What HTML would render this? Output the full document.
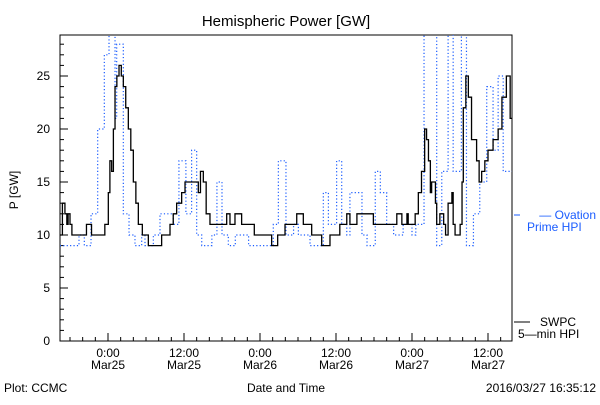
<!DOCTYPE html>
<html><head><meta charset="utf-8"><style>
body{margin:0;background:#fff}
svg text{font-family:"Liberation Sans",sans-serif;font-size:12px}
</style></head><body>
<svg id="c" width="600" height="400" viewBox="0 0 600 400">
<defs><clipPath id="clip"><rect x="60" y="35" width="452" height="306"/></clipPath></defs>
<text x="286" y="26" text-anchor="middle" style="font-size:15px">Hemispheric Power [GW]</text>
<rect x="60" y="35" width="452" height="306" fill="none" stroke="#000"/>
<g id="ticks"></g>
<g clip-path="url(#clip)">
<path id="ov" fill="none" stroke="#1a5cff" stroke-width="1.2" stroke-dasharray="1.2,2.2"/>
<path id="sw" fill="none" stroke="#000" stroke-width="1.3"/>
</g>
<text x="18" y="190" transform="rotate(-90 18 190)" text-anchor="middle">P [GW]</text>
<text x="286" y="392" text-anchor="middle">Date and Time</text>
<text x="4" y="392">Plot: CCMC</text>
<text x="596" y="392" text-anchor="end">2016/03/27 16:35:12</text>
<line x1="514" y1="215" x2="520" y2="215" stroke="#1a5cff"/>
<text x="596" y="219" text-anchor="end" fill="#1a5cff">— Ovation</text>
<text x="527" y="231" fill="#1a5cff">Prime HPI</text>
<line x1="514" y1="322" x2="530" y2="322" stroke="#000"/>
<text x="540" y="326">SWPC</text>
<text x="518" y="338">5—min HPI</text>
</svg>
<script>
const yTicks=[0,5,10,15,20,25];
const xTickHours=[0,12,24,36,48,60];
const xTickTimes=["0:00","12:00","0:00","12:00","0:00","12:00"];
const xTickDates=["Mar25","Mar25","Mar26","Mar26","Mar27","Mar27"];
const swpcHours=[-7.6,-7.2,-6.8,-6.5,-6.3,-6.0,-5.7,-3.4,-2.6,-0.5,0.05,0.3,0.58,0.85,1.11,1.4,1.74,2.1,2.42,2.8,3.21,3.6,4.0,4.4,4.79,5.42,6.37,8.47,9.79,10.3,10.84,11.63,12.16,14.26,14.6,15.05,15.5,16.1,18.74,19.26,20.05,21.1,23.1,25.84,26.79,27.95,29.8,30.84,32.16,33.74,35.05,36.6,37.7,38.2,39.3,41.9,45.6,46.4,47.2,47.4,48.5,49.0,49.5,50.0,50.3,50.6,50.9,51.1,51.7,51.9,52.4,53.0,53.3,53.7,54.3,54.5,54.8,55.6,55.9,56.1,56.5,56.9,57.4,58.2,58.6,59.0,59.5,60.0,60.8,61.6,62.2,62.9,63.5];
const swpcValues=[10,13,12,11,12,11,10,11,10,11,14,17,16,20,24,25,26,25,24,22,20,18,15,13,11,10,9,10,11,12,13,14,15,14,16,15,12,11,12,11,12,11,10,9,10,11,12,11,10,9,10,11,12,11,12,11,12,11,12,11,12,14,16,20,19,17,14,15,13,11,12,11,10,13,14,11,10,11,15,22,25,23,19,17,15,16,17,18,19,20,23,25,21];
const ovHours=[-7.6,-4.58,-3.74,-2.68,-1.63,-0.58,0.16,1.11,1.37,2.42,3.32,4.26,5.32,5.84,7.16,8.21,10.3,11.2,12.3,13.2,14.0,14.8,16.4,17.2,18.0,19.0,20.1,22.2,26.1,26.9,28.1,29.3,30.06,31.9,34.0,34.8,36.1,36.9,37.7,38.2,40.1,40.9,42.2,43.0,44.0,45.1,46.6,48.0,48.6,49.9,51.9,52.7,53.7,54.5,55.8,56.6,57.7,58.7,59.8,60.8,61.6,62.4];
const ovValues=[9,10,9,12,20,27,30,21,28,12,10,9,10,9,10,12,11,17,12,18,10,9,10,15,10,9,10,9,11,17,10,11,10,9,14,11,17,11,10,14,10,9,16,14,11,10,11,10,11,30,9,16,30,16,30,9,12,15,24,18,25,16,17];
const X=h=>108+h*76/12, Y=v=>341-v*10.6, END=63.8;
function step(hs,vs){let d="";for(let i=0;i<hs.length;i++){const x=X(hs[i]);const nx=X(i+1<hs.length?hs[i+1]:END);const y=Y(vs[i]);d+=(i?"L":"M")+x+","+y+"L"+nx+","+y;}return d;}
document.getElementById('sw').setAttribute('d',step(swpcHours,swpcValues));
document.getElementById('ov').setAttribute('d',step(ovHours,ovValues));
const g=document.getElementById('ticks'),NS="http://www.w3.org/2000/svg";
function mk(t,a){const e=document.createElementNS(NS,t);for(const k in a)e.setAttribute(k,a[k]);g.appendChild(e);return e;}
for(let v=0;v<=28;v++){const l=mk('line',{x1:60,x2:v%5?64:68,y1:Y(v),y2:Y(v),stroke:'#000'});

}
yTicks.forEach(v=>{const t=mk('text',{x:50,y:Y(v)+4,'text-anchor':'end'});t.textContent=v;

});
for(let h=-6;h<=62;h+=2){const l=mk('line',{x1:X(h),x2:X(h),y1:341,y2:h%12?337:333,stroke:'#000'});

}
xTickHours.forEach((h,i)=>{const t=mk('text',{x:X(h),y:357,'text-anchor':'middle'});t.textContent=xTickTimes[i];


const d=mk('text',{x:X(h),y:369,'text-anchor':'middle'});d.textContent=xTickDates[i];

});
</script>
</body></html>
